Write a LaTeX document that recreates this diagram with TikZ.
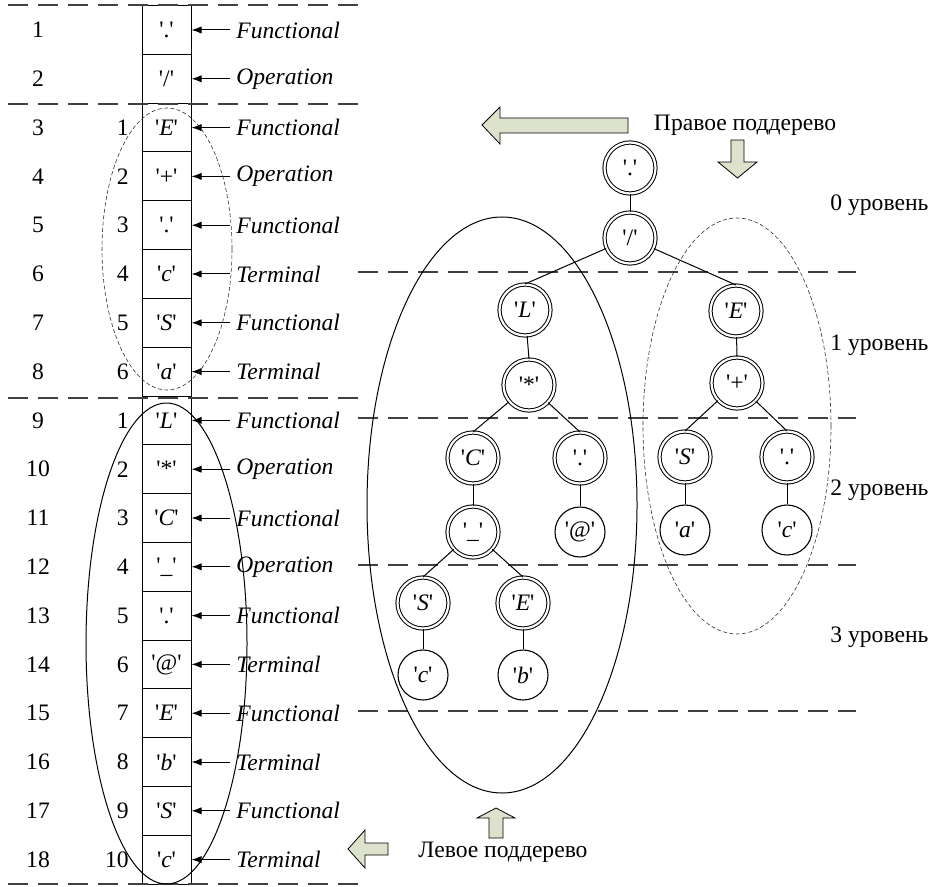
\documentclass[tikz,border=0pt]{standalone}
\usepackage{fontspec}
\setmainfont{Liberation Serif}
\usetikzlibrary{arrows.meta}
\definecolor{arrfill}{RGB}{221,226,204}
\newcommand{\q}[1]{\textquotesingle#1\textquotesingle}
\newcommand{\qi}[1]{\textquotesingle\textit{#1}\textquotesingle}

\begin{document}
\begin{tikzpicture}%
  [x=0.5pt,y=-0.5pt,font=\fontsize{11.8}{13}\selectfont]
  \tikzstyle{cell node}=[rectangle,draw,line width=0.5pt,minimum width=24.5pt,minimum height=24.4pt,inner sep=0]
  \tikzstyle{dbl node}=[circle,draw,double,double distance=1.1pt,line width=0.5pt,minimum size=25.5pt,inner sep=0]
  \tikzstyle{leaf node}=[circle,draw,line width=0.55pt,minimum size=25pt,inner sep=0]
  \tikzstyle{level line}=[dash pattern=on 10pt off 5pt,line width=0.6pt,black!75]
  \tikzstyle{fine dash}=[dash pattern=on 2pt off 1.2pt,line width=0.3pt,black!80]
  \tikzstyle{block arrow}=[draw,fill=arrfill,line width=0.4pt,line join=miter]
  \useasboundingbox (0,0) rectangle (930,887);

  % table of the string
  \foreach \i/\sym/\kind in {1/{\q{.}}/Functional,2/{\q{/}}/Operation,
      3/{\qi{E}}/Functional,4/{\q{+}}/Operation,5/{\q{.}}/Functional,
      6/{\qi{c}}/Terminal,7/{\qi{S}}/Functional,8/{\qi{a}}/Terminal,
      9/{\qi{L}}/Functional,10/{\q{*}}/Operation,11/{\qi{C}}/Functional,
      12/{\q{\_}}/Operation,13/{\q{.}}/Functional,14/{\q{@}}/Terminal,
      15/{\qi{E}}/Functional,16/{\qi{b}}/Terminal,17/{\qi{S}}/Functional,
      18/{\qi{c}}/Terminal}
  {
    \node[cell node] (cell\i) at (166.5,{30+(\i-1)*48.8}) {\sym};
    \node (num\i) at (38,{30+(\i-1)*48.8}) {\i};
    \node[anchor=west,inner sep=3pt] (kind\i) at (230,{30+(\i-1)*48.8}) {\textit{\kind}};
    \draw[-{Latex[length=5pt,width=3.6pt]},line width=0.5pt] (kind\i) -- (cell\i);
  }
  \foreach \i/\n in {3/1,4/2,5/3,6/4,7/5,8/6,9/1,10/2,11/3,12/4,13/5,14/6,15/7,16/8,17/9,18/10}
    \node[anchor=east,inner sep=0] (sub\i) at (129,{30+(\i-1)*48.8}) {\n};

  \draw[level line] (8,5) -- (358,5);
  \draw[level line] (8,104) -- (358,104);
  \draw[level line] (8,398) -- (358,398);
  \draw[level line] (8,884) -- (358,884);
  \draw[fine dash] (167,249) ellipse [x radius=32.5pt,y radius=70.5pt];
  \draw[line width=0.5pt] (166.5,643.5) ellipse [x radius=40.25pt,y radius=120.25pt];

  % tree
  \draw[level line] (358,272) -- (856,272);
  \draw[level line] (358,418) -- (856,418);
  \draw[level line] (358,565) -- (856,565);
  \draw[level line] (358,711) -- (856,711);
  \draw[line width=0.5pt] (502,505) ellipse [x radius=67.5pt,y radius=144pt];
  \draw[fine dash] (737,426) ellipse [x radius=47pt,y radius=104pt];

  \node[dbl node] (root) at (630,168) {\q{.}};
  \node[dbl node] (div) at (630,238) {\q{/}};
  \node[dbl node] (L) at (525,310) {\qi{L}};
  \node[dbl node] (Er) at (736,311) {\qi{E}};
  \node[dbl node] (mul) at (529,385) {\q{*}};
  \node[dbl node] (plus) at (737,383) {\q{+}};
  \node[dbl node] (C) at (473,458) {\qi{C}};
  \node[dbl node] (dotl) at (580,458) {\q{.}};
  \node[dbl node] (Sr) at (685,457) {\qi{S}};
  \node[dbl node] (dotr) at (787,457) {\q{.}};
  \node[dbl node] (under) at (473,532) {\q{\_}};
  \node[leaf node] (at) at (580,532) {\q{@}};
  \node[leaf node] (a) at (685,530) {\qi{a}};
  \node[leaf node] (cr) at (787,530) {\qi{c}};
  \node[dbl node] (Sl) at (423,603) {\qi{S}};
  \node[dbl node] (El) at (523,603) {\qi{E}};
  \node[leaf node] (cl) at (423,675) {\qi{c}};
  \node[leaf node] (b) at (523,675) {\qi{b}};

  \draw[line width=0.5pt] (root) -- (div.north);
  \draw[line width=0.5pt] (div) -- (L.north);
  \draw[line width=0.5pt] (div) -- (Er.north);
  \draw[line width=0.5pt] (L) -- (mul.north);
  \draw[line width=0.5pt] (Er) -- (plus.north);
  \draw[line width=0.5pt] (mul) -- (C.north);
  \draw[line width=0.5pt] (mul) -- (dotl.north);
  \draw[line width=0.5pt] (plus) -- (Sr.north);
  \draw[line width=0.5pt] (plus) -- (dotr.north);
  \draw[line width=0.5pt] (C) -- (under.north);
  \draw[line width=0.5pt] (dotl) -- (at.north);
  \draw[line width=0.5pt] (Sr) -- (a.north);
  \draw[line width=0.5pt] (dotr) -- (cr.north);
  \draw[line width=0.5pt] (under) -- (Sl.north);
  \draw[line width=0.5pt] (under) -- (El.north);
  \draw[line width=0.5pt] (Sl) -- (cl.north);
  \draw[line width=0.5pt] (El) -- (b.north);

  \node[anchor=west,inner sep=0] (lvl0) at (830,205) {0 уровень};
  \node[anchor=west,inner sep=0] (lvl1) at (830,345) {1 уровень};
  \node[anchor=west,inner sep=0] (lvl2) at (830,490) {2 уровень};
  \node[anchor=west,inner sep=0] (lvl3) at (830,637) {3 уровень};

  % block arrows and captions
  \node (rtext) at (745,125) {Правое поддерево};
  \node (ltext) at (503,852) {Левое поддерево};
  \draw[block arrow] (482,125) -- (500,107) -- (500,118) -- (628,118) -- (628,133)
    -- (500,133) -- (500,144) -- cycle;
  \draw[block arrow] (737.5,178) -- (718,162) -- (731,162) -- (731,140) -- (744,140)
    -- (744,162) -- (757,162) -- cycle;
  \draw[block arrow] (496,808) -- (477,818) -- (489,818) -- (489,838) -- (503,838)
    -- (503,818) -- (515,818) -- cycle;
  \draw[block arrow] (348,849) -- (365,830) -- (365,843) -- (388,843) -- (388,855)
    -- (365,855) -- (365,868) -- cycle;
\end{tikzpicture}
\end{document}
